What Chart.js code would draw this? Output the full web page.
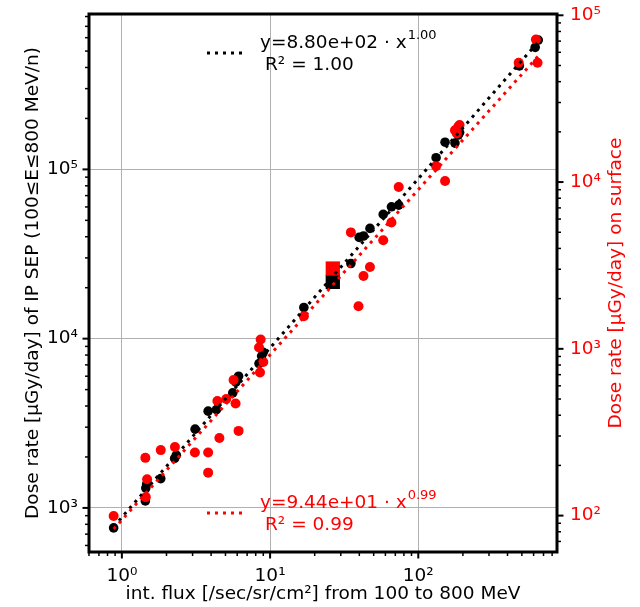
<!DOCTYPE html>
<html>
<head>
<meta charset="utf-8">
<script src="https://cdn.jsdelivr.net/npm/chart.js@4.4.0/dist/chart.umd.min.js"></script>
<style>
  html, body { margin: 0; padding: 0; background: #fff; }
  #wrap { width: 640px; height: 607px; }
</style>
</head>
<body>
<div id="wrap"><canvas id="doseChart" width="640" height="607"></canvas></div>
<script>
// IP SEP dose (left axis) against integral flux
const ipFlux = [0.88, 1.44, 1.45, 1.47, 1.83, 2.27, 2.33, 3.12, 3.82, 4.35, 5.6, 5.88, 6.13,
    8.42, 8.77, 9.0, 16.9, 35.1, 39.9, 42.7, 47.2, 58.0, 65.9, 73.8, 131.9, 151.6, 176.8, 186, 190,
    481, 615, 645];
const ipDose = [762, 1100, 1310, 1380, 1490, 1960, 2050, 2920, 3730, 3810, 4780, 5530, 6000,
    7130, 7890, 8300, 15280, 27800, 39650, 40400, 44800, 54200, 60100, 61500, 117200, 144700, 143000, 159600, 165000,
    409000, 526000, 581000];

// surface dose (right axis) against integral flux
const surfFlux = [0.88, 1.44, 1.48, 1.45, 1.83, 2.28, 3.11, 3.82, 3.82, 4.41, 4.55, 5.06, 5.67, 5.85, 6.13,
    8.42, 8.55, 8.64, 9.0, 16.9, 35.1, 39.5, 42.7, 47.2, 58.0, 65.9, 73.8, 131.9, 151.6, 176.8, 182, 186, 190,
    476, 622, 638];
const surfDose = [99.4, 222, 165, 129, 247, 258, 239, 239, 181, 487, 292, 500, 650, 470, 322,
    1018, 721, 1137, 834, 1569, 4990, 1801, 2735, 3097, 4483, 5725, 9350, 12460, 10160, 20470, 19560, 21430, 22000,
    51900, 71600, 51900];

// highlighted event
const markFlux = [26.5];
const markIpDose = [21660];
const markSurfDose = [3030];

// fitted power laws, read at both ends of the data range
const ipFitFlux = [0.88, 645];
const ipFitDose = [775, 567600];
const surfFitFlux = [0.88, 645];
const surfFitDose = [83, 57000];

const xTicks = [1, 10, 100];
const xTickLabels = ['10⁰', '10¹', '10²'];
const leftTicks = [1e3, 1e4, 1e5];
const leftTickLabels = ['10³', '10⁴', '10⁵'];
const rightTicks = [1e2, 1e3, 1e4, 1e5];
const rightTickLabels = ['10²', '10³', '10⁴', '10⁵'];

const RED = '#ff0000';
const FONT = '"DejaVu Sans"';
Chart.defaults.font.family = 'DejaVu Sans';
Chart.defaults.font.size = 18.5;

function toPoints(xs, ys) {
    return xs.map((x, i) => ({ x: x, y: ys[i] }));
}

// tick values 1..9 x 10^n inside the scale range
function logTickValues(scale) {
    const out = [];
    const e0 = Math.floor(Math.log10(scale.min));
    const e1 = Math.ceil(Math.log10(scale.max));
    for (let e = e0; e <= e1; e++) {
        for (let m = 1; m <= 9; m++) {
            const v = m * Math.pow(10, e);
            if (v >= scale.min && v <= scale.max) out.push({ v: v, major: m === 1 });
        }
    }
    return out;
}

function drawFitLabel(ctx, y, color, text, sup, r2) {
    ctx.save();
    ctx.strokeStyle = color;
    ctx.fillStyle = color;
    ctx.lineWidth = 3;
    ctx.setLineDash([3, 5]);
    ctx.beginPath();
    ctx.moveTo(207, y + 10);
    ctx.lineTo(243, y + 10);
    ctx.stroke();
    ctx.setLineDash([]);
    ctx.textBaseline = 'middle';
    ctx.textAlign = 'left';
    ctx.font = '18.5px ' + FONT;
    ctx.fillText(text, 260, y);
    const w = ctx.measureText(text).width;
    ctx.fillText(r2, 265, y + 22);
    ctx.font = '13px ' + FONT;
    ctx.fillText(sup, 260 + w + 1, y - 7);
    ctx.restore();
}

const framePlugin = {
    id: 'frame',
    afterDraw(chart) {
        const { ctx, chartArea: a, scales } = chart;
        ctx.save();
        ctx.strokeStyle = '#000';
        ctx.lineCap = 'butt';

        logTickValues(scales.x).forEach(t => {
            const px = scales.x.getPixelForValue(t.v);
            ctx.lineWidth = t.major ? 2 : 1.5;
            ctx.beginPath();
            ctx.moveTo(px, a.bottom);
            ctx.lineTo(px, a.bottom + (t.major ? 6.5 : 4));
            ctx.stroke();
        });
        logTickValues(scales.yL).forEach(t => {
            const py = scales.yL.getPixelForValue(t.v);
            ctx.lineWidth = t.major ? 2 : 1.5;
            ctx.beginPath();
            ctx.moveTo(a.left, py);
            ctx.lineTo(a.left - (t.major ? 6.5 : 4), py);
            ctx.stroke();
        });
        logTickValues(scales.yR).forEach(t => {
            const py = scales.yR.getPixelForValue(t.v);
            ctx.lineWidth = t.major ? 2 : 1.5;
            ctx.beginPath();
            ctx.moveTo(a.right, py);
            ctx.lineTo(a.right + (t.major ? 6.5 : 4), py);
            ctx.stroke();
        });

        ctx.lineWidth = 3;
        ctx.strokeRect(a.left, a.top, a.right - a.left, a.bottom - a.top);

        // right axis title, reading bottom to top
        ctx.translate(616, (a.top + a.bottom) / 2);
        ctx.rotate(-Math.PI / 2);
        ctx.fillStyle = RED;
        ctx.font = '18.5px ' + FONT;
        ctx.textAlign = 'center';
        ctx.textBaseline = 'middle';
        ctx.fillText('Dose rate [µGy/day] on surface', 0, 0);
        ctx.restore();

        drawFitLabel(ctx, 43, '#000', 'y=8.80e+02 · x', '1.00', 'R² = 1.00');
        drawFitLabel(ctx, 503, RED, 'y=9.44e+01 · x', '0.99', 'R² = 0.99');
    }
};

function fitVertical(width) {
    return s => {
        s.width = width;
        s.paddingTop = 0;
        s.paddingBottom = 0;
    };
}

new Chart(document.getElementById('doseChart'), {
    type: 'scatter',
    data: {
        datasets: [
            {
                data: toPoints(surfFitFlux, surfFitDose), yAxisID: 'yR', order: 1,
                showLine: true, pointRadius: 0, borderColor: RED, borderWidth: 3,
                borderDash: [3, 5], borderCapStyle: 'butt'
            },
            {
                data: toPoints(ipFitFlux, ipFitDose), yAxisID: 'yL', order: 2,
                showLine: true, pointRadius: 0, borderColor: '#000', borderWidth: 3,
                borderDash: [3, 5], borderCapStyle: 'butt'
            },
            {
                data: toPoints(markFlux, markSurfDose), yAxisID: 'yR', order: 3,
                pointStyle: 'rect', pointRadius: 10.1, pointBorderWidth: 0, backgroundColor: RED
            },
            {
                data: toPoints(markFlux, markIpDose), yAxisID: 'yL', order: 4,
                pointStyle: 'rect', pointRadius: 10.1, pointBorderWidth: 0, backgroundColor: '#000'
            },
            {
                data: toPoints(surfFlux, surfDose), yAxisID: 'yR', order: 5,
                pointRadius: 5, pointBorderWidth: 0, backgroundColor: RED
            },
            {
                data: toPoints(ipFlux, ipDose), yAxisID: 'yL', order: 6,
                pointRadius: 4.8, pointBorderWidth: 0, backgroundColor: '#000'
            }
        ]
    },
    options: {
        responsive: false,
        animation: false,
        layout: { padding: { top: 14, left: 0, right: 0, bottom: 0 } },
        plugins: {
            legend: { display: false },
            tooltip: { enabled: false }
        },
        scales: {
            x: {
                type: 'logarithmic',
                position: 'bottom',
                min: 0.63,
                max: 863,
                afterBuildTicks: s => { s.ticks = xTicks.map(v => ({ value: v })); },
                afterFit: s => {
                    s.height = 55;
                    s.paddingLeft = 0;
                    s.paddingRight = 0;
                },
                ticks: {
                    callback: (v, i) => xTickLabels[i],
                    color: '#000', padding: 13, maxRotation: 0, autoSkip: false
                },
                grid: { color: '#b0b0b0', lineWidth: 1, drawTicks: false },
                border: { display: false },
                title: {
                    display: true, text: 'int. flux [/sec/sr/cm²] from 100 to 800 MeV',
                    color: '#000', padding: { top: 0, bottom: 2 }
                }
            },
            yL: {
                type: 'logarithmic',
                position: 'left',
                min: 549,
                max: 8.28e5,
                afterBuildTicks: s => { s.ticks = leftTicks.map(v => ({ value: v })); },
                afterFit: fitVertical(89),
                ticks: {
                    callback: (v, i) => leftTickLabels[i],
                    color: '#000', padding: 11, autoSkip: false
                },
                grid: { color: '#b0b0b0', lineWidth: 1, drawTicks: false },
                border: { display: false },
                title: {
                    display: true, text: 'Dose rate [µGy/day] of IP SEP (100≤E≤800 MeV/n)',
                    color: '#000', padding: { top: 22, bottom: 0 }
                }
            },
            yR: {
                type: 'logarithmic',
                position: 'right',
                min: 60.5,
                max: 1.018e5,
                afterBuildTicks: s => { s.ticks = rightTicks.map(v => ({ value: v })); },
                afterFit: fitVertical(83),
                ticks: {
                    callback: (v, i) => rightTickLabels[i],
                    color: RED, padding: 13, autoSkip: false
                },
                grid: { display: false, drawTicks: false },
                border: { display: false }
            }
        }
    },
    plugins: [framePlugin]
});
</script>
</body>
</html>
